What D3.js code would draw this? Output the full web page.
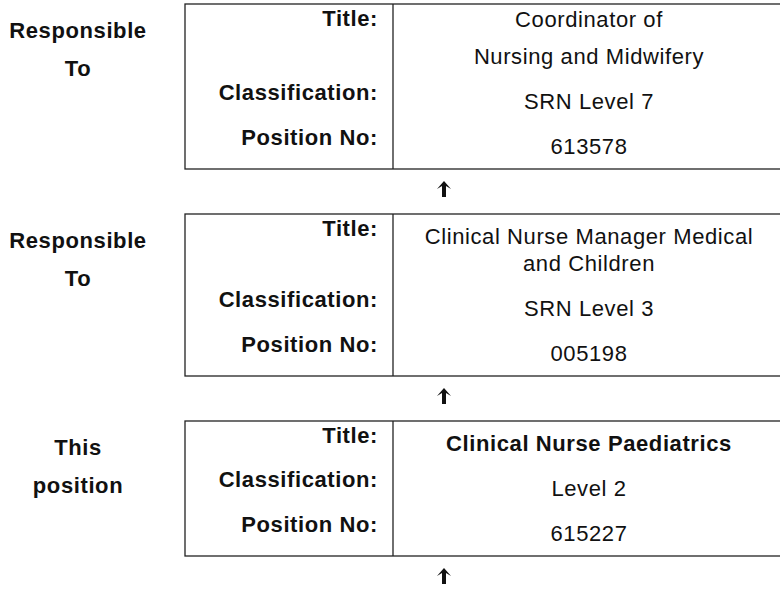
<!DOCTYPE html>
<html>
<head>
<meta charset="utf-8">
<script src="https://cdn.jsdelivr.net/npm/d3@7"></script>
<style>
    body { margin: 0; background: #fff; }
    #chart text { font-family: "Liberation Sans", Arial, sans-serif; font-size: 22px; letter-spacing: 0.6px; fill: #111; }
</style>
</head>
<body>
<div id="chart"></div>
<script>
// chart content
var sideLabels = [["Responsible", "To"], ["Responsible", "To"], ["This", "position"]]
var fieldNames = ["Title:", "Classification:", "Position No:"]
var titles = ["Coordinator of\nNursing and Midwifery", "Clinical Nurse Manager Medical and Children", "Clinical Nurse Paediatrics"]
var titleBold = [false, false, true]
var classifications = ["SRN Level 7", "SRN Level 3", "Level 2"]
var positionNos = ["613578", "005198", "615227"]

var width = 780,
    height = 596

var svg = d3.select('#chart').append('svg')
    .attr('width', width)
    .attr('height', height)

// columns: side label, field label (right aligned), value (centered)
var col = d3.scaleOrdinal()
    .domain(['side', 'boxLeft', 'label', 'divider', 'value', 'arrow'])
    .range([78, 185, 378, 393, 589, 444])

var wrapWidth = 350,
    lineGap = 27,
    paraGap = 37,
    classGap = 36,
    rowGap = 45,
    valueDrop = 9,
    boxGap = 45

var boxTop = 4

titles.forEach(function (title, i) {
    var g = svg.append('g')
    var paragraphs = title.split('\n')

    // title lines in the value column
    var titleText = g.append('text')
        .attr('text-anchor', 'middle')
        .style('font-weight', titleBold[i] ? 'bold' : 'normal')

    var y = paragraphs.length > 1 ? boxTop + 23 : boxTop + 30
    var lastY = y
    paragraphs.forEach(function (para, p) {
        if (p > 0) y += paraGap
        var words = para.split(' ')
        var line = []
        var tspan = titleText.append('tspan').attr('x', col('value')).attr('y', y)
        words.forEach(function (w) {
            line.push(w)
            tspan.text(line.join(' '))
            if (tspan.node().getComputedTextLength() > wrapWidth && line.length > 1) {
                line.pop()
                tspan.text(line.join(' '))
                line = [w]
                y += lineGap
                tspan = titleText.append('tspan').attr('x', col('value')).attr('y', y).text(w)
            }
        })
        lastY = y
    })

    var classY = lastY + classGap
    var posY = classY + rowGap
    var labelYs = [boxTop + 22, classY, posY]
    var bottom = posY + valueDrop + 15

    // field labels
    g.selectAll('text.field')
        .data(fieldNames)
        .enter().append('text')
        .attr('class', 'field')
        .attr('x', col('label'))
        .attr('y', (d, k) => labelYs[k])
        .attr('text-anchor', 'end')
        .style('font-weight', 'bold')
        .text(d => d)

    // values
    g.selectAll('text.val')
        .data([classifications[i], positionNos[i]])
        .enter().append('text')
        .attr('class', 'val')
        .attr('x', col('value'))
        .attr('y', (d, k) => labelYs[k + 1] + valueDrop)
        .attr('text-anchor', 'middle')
        .text(d => d)

    // side labels
    g.selectAll('text.side')
        .data(sideLabels[i])
        .enter().append('text')
        .attr('class', 'side')
        .attr('x', col('side'))
        .attr('y', (d, k) => boxTop + 34 + k * 38)
        .attr('text-anchor', 'middle')
        .style('font-weight', 'bold')
        .text(d => d)

    // box + divider
    g.append('rect')
        .attr('x', col('boxLeft'))
        .attr('y', boxTop)
        .attr('width', width - col('boxLeft') + 10)
        .attr('height', bottom - boxTop)
        .style('fill', 'none')
        .style('stroke', '#222')
        .style('stroke-width', 1.3)

    g.append('line')
        .attr('x1', col('divider')).attr('x2', col('divider'))
        .attr('y1', boxTop).attr('y2', bottom)
        .style('stroke', '#222')
        .style('stroke-width', 1.3)

    // arrow pointing up to the box above
    var ay = bottom + 20
    var ax = col('arrow')
    var p = d3.path()
    p.moveTo(ax, ay - 8)
    p.lineTo(ax + 7, ay)
    p.lineTo(ax + 2, ay - 3)
    p.lineTo(ax + 2, ay + 8)
    p.lineTo(ax - 2, ay + 8)
    p.lineTo(ax - 2, ay - 3)
    p.lineTo(ax - 7, ay)
    p.closePath()
    svg.append('path')
        .attr('d', p.toString())
        .style('fill', '#111')

    boxTop = bottom + boxGap
})
</script>
</body>
</html>
